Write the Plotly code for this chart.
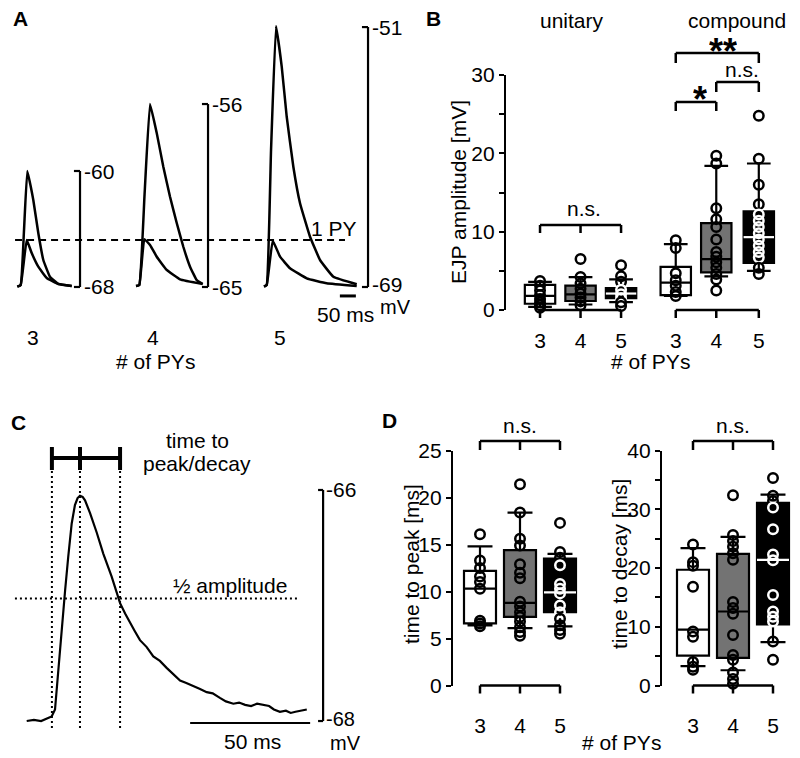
import plotly.graph_objects as go

FONT = "Liberation Sans, Arial, Helvetica, sans-serif"
W, H = 800, 758
FS = 21

# ---------------- Panel A : averaged EJP traces (ms, mV) ----------------
a3_t      = [0, 10.6, 21.0, 31.3, 50.0, 65.6, 81.3, 102.0, 128.0, 170.0]
a3_comp   = [-67.98, -67.86, -64.07, -60.0, -62.0, -64.28, -66.14, -67.29, -67.79, -67.93]
a3_unit_t = [0, 10.6, 29.4, 45.0, 65.6, 91.9, 128.0, 170.0]
a3_unit   = [-67.98, -67.86, -64.76, -65.66, -66.6, -67.38, -67.79, -67.93]
a4_t      = [0, 10.3, 26.6, 43.75, 64.7, 85.3, 106.25, 127.2, 147.8, 168.75, 189.7, 208.4]
a4_comp   = [-64.95, -64.9, -60.47, -56.0, -57.43, -59.08, -60.56, -61.85, -63.02, -64.0, -64.66, -64.85]
a4_unit_t = [0, 10.3, 25.9, 43.75, 64.7, 95.9, 137.5, 208.4]
a4_unit   = [-64.95, -64.9, -62.65, -62.93, -63.51, -64.16, -64.62, -64.85]
a5_t      = [0, 8.4, 21.9, 37.5, 55.3, 70.9, 91.6, 112.5, 143.75, 175.0, 216.6, 289.7]
a5_comp   = [-68.98, -68.86, -59.51, -50.93, -53.74, -57.21, -60.67, -63.2, -65.52, -67.13, -68.29, -68.81]
a5_unit_t = [0, 8.4, 27.2, 50.0, 81.25, 133.4, 195.9, 289.7]
a5_unit   = [-68.98, -68.86, -65.79, -66.9, -67.7, -68.4, -68.74, -68.93]
a_groups   = ["3", "4", "5"]
a_scale_lo = [-68, -65, -69]
a_scale_hi = [-60, -56, -51]

# ---------------- Panel B : EJP amplitude [mV] ----------------
b_ticks = ["3", "4", "5", "3", "4", "5"]
b_q1  = [0.8, 1.15, 1.5, 1.9, 4.8, 6.0]
b_med = [1.8, 2.0, 2.1, 3.5, 6.5, 9.3]
b_q3  = [3.2, 3.1, 2.8, 5.5, 11.1, 12.6]
b_lo  = [0.4, 0.7, 1.0, 1.8, 4.3, 5.0]
b_hi  = [3.6, 4.2, 3.9, 8.4, 18.4, 18.7]
b_u3 = [3.7, 3.1, 2.5, 1.9, 1.4, 1.0, 0.6, 0.3]
b_u4 = [6.5, 4.2, 3.4, 2.7, 2.1, 1.6, 1.1, 0.6]
b_u5 = [5.7, 4.3, 3.6, 2.6, 2.0, 1.5, 1.0, 0.5]
b_c3 = [8.9, 7.9, 4.7, 3.8, 3.1, 2.3, 1.8]
b_c4 = [19.7, 18.7, 13.0, 11.6, 10.6, 9.0, 7.4, 6.8, 6.1, 5.4, 4.6, 3.9, 2.5]
b_c5 = [24.8, 19.3, 16.0, 13.5, 12.2, 11.4, 10.6, 9.8, 9.0, 8.2, 7.4, 6.7, 5.4, 4.6]

# ---------------- Panel C : example EJP (ms, mV) ----------------
c_t = [0, 3, 6, 8.3, 10.4, 11.8, 12.5, 13.6, 14.6, 16.0, 17.3, 18.75, 20.1, 21.2, 22.2, 23.3,
       24.3, 26.4, 29.2, 31.9, 35.4, 38.9, 41.0, 43.0, 45.0, 47.2, 50.0, 52.75, 55.5, 58.3, 61.0,
       63.9, 66.5, 69.4, 72.0, 75.0, 77.5, 80.5, 83.0, 86.1, 88.5, 91.0, 93.5, 96.0, 98.5, 101.0,
       103.0, 105.5, 108.0, 110.0, 112.0, 114.5, 116.7]
c_v = [-68.0, -67.99, -68.0, -67.98, -67.96, -67.9, -67.73, -67.44, -67.15, -66.87, -66.58, -66.29,
       -66.13, -66.07, -66.05, -66.06, -66.09, -66.2, -66.37, -66.55, -66.75, -66.98, -67.07,
       -67.15, -67.22, -67.3, -67.36, -67.44, -67.48, -67.54, -67.59, -67.65, -67.67, -67.7,
       -67.72, -67.75, -67.76, -67.8, -67.83, -67.85, -67.84, -67.86, -67.87, -67.85, -67.86,
       -67.87, -67.9, -67.92, -67.91, -67.93, -67.92, -67.91, -67.9]
c_marks_t = [10.5, 22.2, 38.9]      # onset, peak, half decay
c_half_level = -66.94
c_scale = [-68, -66]

# ---------------- Panel D : time to peak / decay [ms] ----------------
d_ticks = ["3", "4", "5"]
p_q1  = [6.6, 7.3, 7.8]
p_med = [10.3, 8.8, 9.9]
p_q3  = [12.2, 14.4, 13.5]
p_lo  = [6.4, 6.1, 6.3]
p_hi  = [14.8, 18.4, 14.0]
p_3 = [16.1, 13.3, 12.5, 11.6, 11.0, 10.3, 6.9, 6.6, 6.3]
p_4 = [21.4, 18.4, 15.6, 14.9, 12.9, 12.0, 11.4, 8.9, 8.4, 7.8, 7.3, 6.8, 6.2, 5.7, 5.3]
p_5 = [17.3, 14.2, 13.6, 12.8, 10.8, 10.3, 9.8, 8.5, 7.8, 7.1, 6.4, 5.9, 5.5]
dc_q1  = [5.1, 4.7, 10.4]
dc_med = [9.5, 12.6, 21.4]
dc_q3  = [19.7, 22.4, 31.1]
dc_lo  = [3.3, 2.6, 7.4]
dc_hi  = [23.4, 25.3, 32.5]
dc_3 = [24.0, 21.0, 20.4, 16.8, 9.2, 8.3, 4.0, 3.2, 2.7]
dc_4 = [32.4, 25.6, 24.6, 23.6, 22.5, 21.4, 14.2, 13.2, 12.2, 8.6, 5.2, 4.4, 2.2, 1.1, 0.3]
dc_5 = [35.3, 32.3, 31.4, 30.3, 26.6, 22.3, 21.3, 15.4, 12.6, 11.7, 10.9, 7.5, 4.4]

# ================= layout helpers =================
def px(x): return x / W
def py(y): return 1 - y / H

FILLS = ["white", "#737373", "black"]
shapes, annots = [], []
fig = go.Figure()

def ln(xref, yref, x0, x1, y0, y1, w=2.2, dash=None):
    d = dict(type="line", xref=xref, yref=yref, x0=x0, x1=x1, y0=y0, y1=y1,
             line=dict(color="black", width=w))
    if dash:
        d["line"]["dash"] = dash
    shapes.append(d)

def txt(t, x, y, size=FS, bold=False, angle=0, xanchor="center", xref="paper", yref="paper",
        xshift=0, yshift=0, yanchor="middle", height=None):
    if xref == "paper":
        x = px(x)
    if yref == "paper":
        y = py(y)
    a = dict(text=("<b>%s</b>" % t) if bold else t, x=x, y=y, xref=xref, yref=yref,
             showarrow=False, xanchor=xanchor, yanchor=yanchor, textangle=angle,
             xshift=xshift, yshift=yshift, borderpad=0,
             font=dict(family=FONT, size=size, color="black"))
    if height is not None:
        a["height"] = height
        a["valign"] = "top"
    annots.append(a)

# ================= Panel A =================
A_OFFSETS = [0, 371, 771]          # ms offsets of the three groups
A_BAR_X = [196, 596, 1096]
A_Y = ["y", "y2", "y3"]
a_sets = [(a3_t, a3_comp, a3_unit_t, a3_unit), (a4_t, a4_comp, a4_unit_t, a4_unit),
          (a5_t, a5_comp, a5_unit_t, a5_unit)]
for i, (tc, vc, tu, vu) in enumerate(a_sets):
    off = A_OFFSETS[i]
    for tt, vv in ((tu, vu), (tc, vc)):
        fig.add_trace(go.Scatter(x=[t + off for t in tt], y=vv, mode="lines",
                                 line=dict(color="black", width=2.5, shape="spline", smoothing=0.3),
                                 xaxis="x", yaxis=A_Y[i], showlegend=False, hoverinfo="skip"))
    xb = A_BAR_X[i]
    ln("x", A_Y[i], xb, xb, a_scale_lo[i], a_scale_hi[i])
    ln("x", A_Y[i], xb - 19, xb, a_scale_lo[i], a_scale_lo[i])
    ln("x", A_Y[i], xb - 19, xb, a_scale_hi[i], a_scale_hi[i])
    txt(str(a_scale_hi[i]), xb, a_scale_hi[i], xanchor="left", xref="x", yref=A_Y[i], xshift=3)
    txt(str(a_scale_lo[i]), xb, a_scale_lo[i], xanchor="left", xref="x", yref=A_Y[i], xshift=3,
        yshift=3 if i == 2 else 0)

ln("x", "y", -7, 1024, max(a3_unit), max(a3_unit), w=2, dash="7px,5px")
ln("x", "y3", 1008, 1058, -69.62, -69.62, w=3)
txt("1 PY", 334, 228)
txt("50 ms", 345, 315)
txt("mV", 395, 307, size=20)
for lab, xx in zip(a_groups, [33, 153, 280]):
    txt(lab, xx, 337)
txt("# of PYs", 155, 362)
txt("A", 12, 19, bold=True, xanchor="left")

# ================= box helper =================
def add_boxes(xa, ya, pos, q1, med, q3, lo, hi, pts, width):
    for i in range(len(pos)):
        fill = FILLS[i % 3]
        fig.add_trace(go.Box(x=[pos[i]], q1=[q1[i]], median=[med[i]], q3=[q3[i]],
                             lowerfence=[lo[i]], upperfence=[hi[i]], width=width, whiskerwidth=0.78,
                             fillcolor=fill, line=dict(color="black", width=2.2), boxpoints=False,
                             xaxis=xa, yaxis=ya, showlegend=False, hoverinfo="skip"))
        cols = ["white" if (fill == "black" and q1[i] <= v <= q3[i]) else "black" for v in pts[i]]
        fig.add_trace(go.Scatter(x=[pos[i]] * len(pts[i]), y=pts[i], mode="markers",
                                 marker=dict(symbol="circle-open", size=9.5, color=cols,
                                             line=dict(width=2.5)),
                                 cliponaxis=False, xaxis=xa, yaxis=ya, showlegend=False,
                                 hoverinfo="skip"))
        if fill == "black":
            fig.add_trace(go.Scatter(x=[pos[i] - width / 2, pos[i] + width / 2], y=[med[i], med[i]],
                                     mode="lines", line=dict(color="white", width=2.2),
                                     xaxis=xa, yaxis=ya, showlegend=False, hoverinfo="skip"))

def bracket(xref, xs, y_line, y_tick, w=2.5):
    ln(xref, "paper", min(xs), max(xs), py(y_line), py(y_line), w=w)
    for x in xs:
        ln(xref, "paper", x, x, py(y_line), py(y_tick), w=w)

# ================= Panel B =================
b_pos = [0, 1, 2, 3.35, 4.35, 5.4]
add_boxes("x2", "y4", b_pos, b_q1, b_med, b_q3, b_lo, b_hi,
          [b_u3, b_u4, b_u5, b_c3, b_c4, b_c5], 0.75)
bracket("x2", b_pos[:3], 310, 318)
bracket("x2", b_pos[3:], 310, 318)
bracket("x2", b_pos[:3], 225, 233)
bracket("x2", [b_pos[3], b_pos[4]], 102, 111)
bracket("x2", [b_pos[4], b_pos[5]], 82, 92)
bracket("x2", [b_pos[3], b_pos[5]], 53, 63)
txt("n.s.", 584, 208)
txt("n.s.", 742, 70)
txt("*", 700, 78, size=36, bold=True, yanchor="top", height=24)
txt("**", 723, 30, size=36, bold=True, yanchor="top", height=24)
txt("unitary", 572, 20)
txt("compound", 737, 20)
txt("# of PYs", 650, 361)
txt("EJP amplitude [mV]", 458, 192, angle=-90)
txt("B", 425, 19, bold=True, xanchor="left")

# ================= Panel C =================
fig.add_trace(go.Scatter(x=c_t, y=c_v, mode="lines", line=dict(color="black", width=2.2),
                         xaxis="x3", yaxis="y5", showlegend=False, hoverinfo="skip"))
for tm in c_marks_t:
    ln("x3", "y5", tm, tm, -68.061, -65.801, w=2, dash="2px,3px")
ln("x3", "y5", -4.9, 113, c_half_level, c_half_level, w=2, dash="2px,3px")
ln("x3", "y5", c_marks_t[0], c_marks_t[-1] + 0.8, -65.723, -65.723, w=4)
for tm in c_marks_t:
    ln("x3", "y5", tm, tm, -65.628, -65.827, w=4)
ln("x3", "y5", 123.5, 123.5, c_scale[0], c_scale[1], w=2.2)
ln("x3", "y5", 121.4, 123.5, c_scale[0], c_scale[0], w=2.2)
ln("x3", "y5", 121.4, 123.5, c_scale[1], c_scale[1], w=2.2)
ln("x3", "y5", 68.1, 118.1, -68.017, -68.017, w=2.2)
txt(str(c_scale[1]), 123.5, c_scale[1], xanchor="left", xref="x3", yref="y5", xshift=2)
txt(str(c_scale[0]), 123.5, c_scale[0], xanchor="left", xref="x3", yref="y5", xshift=2,
    yshift=2, size=20)
txt("mV", 345, 743, size=20)
txt("50 ms", 252, 741)
txt("time to", 197, 440)
txt("peak/decay", 197, 463)
txt("½ amplitude", 230, 585)
txt("C", 10, 422, bold=True, xanchor="left")

# ================= Panel D =================
d_pos = [0, 1, 2]
add_boxes("x4", "y6", d_pos, p_q1, p_med, p_q3, p_lo, p_hi, [p_3, p_4, p_5], 0.8)
add_boxes("x5", "y7", d_pos, dc_q1, dc_med, dc_q3, dc_lo, dc_hi, [dc_3, dc_4, dc_5], 0.8)
for xr, y0 in (("x4", 685.5), ("x5", 685.5)):
    bracket(xr, d_pos, y0, y0 + 8)
    bracket(xr, d_pos, 441, 450)
txt("n.s.", 520, 425)
txt("n.s.", 733, 425)
txt("time to peak [ms]", 411, 564, angle=-90)
txt("time to decay [ms]", 619, 564, angle=-90)
txt("# of PYs", 621, 742)
txt("D", 381, 420, bold=True, xanchor="left")

# ================= axes =================
hidden = dict(visible=False, fixedrange=True, automargin=False)
yax_common = dict(showline=True, linewidth=2.2, linecolor="black", ticks="outside", ticklen=5,
                  tickwidth=2.2, tickcolor="black", showgrid=False, zeroline=False,
                  automargin=False, tickfont=dict(family=FONT, size=FS, color="black"))
xax_common = dict(showline=False, showgrid=False, zeroline=False, ticks="outside",
                  automargin=False, tickcolor="rgba(0,0,0,0)",
                  tickfont=dict(family=FONT, size=FS, color="black"))
A_DOM = [py(330), 1]
fig.update_layout(
    template="none",
    width=W, height=H, autosize=False, margin=dict(l=0, r=0, t=0, b=0, pad=0),
    paper_bgcolor="white", plot_bgcolor="rgba(0,0,0,0)", showlegend=False,
    font=dict(family=FONT, size=FS, color="black"),
    boxmode="overlay",
    xaxis=dict(hidden, domain=[0, 0.5], range=[-54.06, 1195.9], anchor="y"),
    yaxis=dict(hidden, domain=A_DOM, range=[-70.966, -48.207], anchor="x"),
    yaxis2=dict(hidden, overlaying="y", range=[-67.115, -50.883], anchor="x"),
    yaxis3=dict(hidden, overlaying="y", range=[-71.978, -49.125], anchor="x"),
    xaxis2=dict(xax_common, domain=[px(506), px(790)], range=[-0.84, 6.17], anchor="y4",
                tickvals=b_pos, ticktext=b_ticks, ticklen=12),
    yaxis4=dict(yax_common, domain=[py(310), py(75)], range=[0, 30], anchor="x2",
                tickvals=[0, 10, 20, 30],
                minor=dict(tickvals=[5, 15, 25], ticks="outside", ticklen=5, tickwidth=2.2,
                           tickcolor="black")),
    xaxis3=dict(hidden, domain=[0, 0.5], range=[-11.125, 155.54], anchor="y5"),
    yaxis5=dict(hidden, domain=[0, py(400)], range=[-68.32, -65.221], anchor="x3"),
    xaxis4=dict(xax_common, domain=[px(453), px(595)], range=[-0.675, 2.875], anchor="y6",
                tickvals=d_pos, ticktext=d_ticks, ticklen=21),
    yaxis6=dict(yax_common, domain=[py(685.5), py(450.5)], range=[0, 25], anchor="x4",
                tickvals=[0, 5, 10, 15, 20, 25]),
    xaxis5=dict(xax_common, domain=[px(662), 1.0], range=[-0.775, 2.675], anchor="y7",
                tickvals=d_pos, ticktext=d_ticks, ticklen=21),
    yaxis7=dict(yax_common, domain=[py(685.5), py(450.5)], range=[0, 40], anchor="x5",
                tickvals=[0, 10, 20, 30, 40],
                minor=dict(tickvals=[5, 15, 25, 35], ticks="outside", ticklen=5, tickwidth=2.2,
                           tickcolor="black")),
    shapes=shapes, annotations=annots,
)

fig.write_html("out.html", config={"displayModeBar": False},
               post_script="document.body.style.margin='0px';document.body.style.overflow='hidden';")
